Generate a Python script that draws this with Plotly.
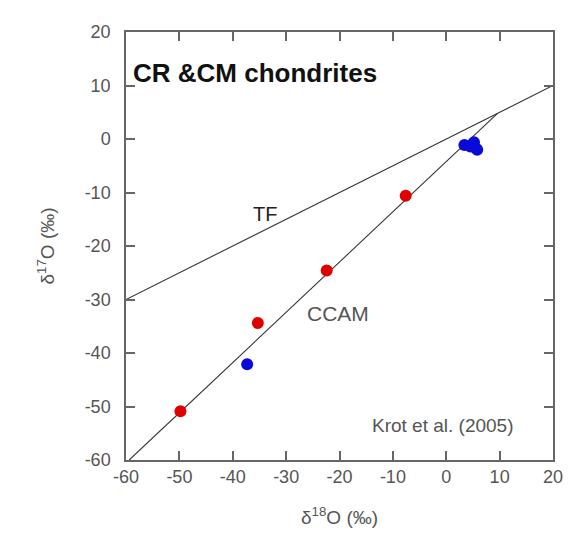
import plotly.graph_objects as go

# Data
red_x = [-49.8, -35.3, -22.4, -7.6]
red_y = [-50.9, -34.4, -24.6, -10.6]
blue_x = [-37.3, 3.4, 4.5, 5.2, 5.6, 5.8]
blue_y = [-42.1, -1.1, -1.4, -0.6, -1.8, -2.0]
tf_x = [-60, 20]
tf_y = [-30, 10]
ccam_x = [-59.4, 9.6]
ccam_y = [-60, 4.8]
x_ticks = [-60, -50, -40, -30, -20, -10, 0, 10, 20]
y_ticks = [-60, -50, -40, -30, -20, -10, 0, 10, 20]
x_ticktext = [str(v) for v in x_ticks]
y_ticktext = [str(v) for v in y_ticks]

FONT = "Liberation Sans, Arial, sans-serif"

fig = go.Figure()
fig.add_trace(go.Scatter(x=tf_x, y=tf_y, mode="lines", line=dict(color="#333", width=1.1), showlegend=False))
fig.add_trace(go.Scatter(x=ccam_x, y=ccam_y, mode="lines", line=dict(color="#333", width=1.1), showlegend=False))
fig.add_trace(go.Scatter(x=red_x, y=red_y, mode="markers", marker=dict(color="#e00000", size=12), showlegend=False))
fig.add_trace(go.Scatter(x=blue_x, y=blue_y, mode="markers", marker=dict(color="#0a0ad8", size=12), showlegend=False))

axis_common = dict(
    showgrid=False, zeroline=False, showline=True, linecolor="#666", linewidth=1.5,
    mirror="allticks", ticks="inside", ticklen=9, tickcolor="#666", tickwidth=1.5,
    tickfont=dict(family=FONT, size=18, color="#555"),
)
fig.update_xaxes(range=[-60, 20], tickvals=x_ticks, ticktext=x_ticktext, **axis_common,
                 title=dict(text="δ<sup>18</sup>O (‰)", font=dict(family=FONT, size=19, color="#555"), standoff=24))
fig.update_yaxes(range=[-60, 20], tickvals=y_ticks, ticktext=y_ticktext, **axis_common, ticklabelstandoff=10,
                 title=dict(text="δ<sup>17</sup>O (‰)", font=dict(family=FONT, size=19, color="#555"), standoff=25))

fig.add_annotation(x=0.012, y=0.905, xref="paper", yref="paper", text="<b>CR &CM chondrites</b>",
                   showarrow=False, xanchor="left", yanchor="middle", font=dict(family=FONT, size=26, color="#111"))
fig.add_annotation(x=-33.9, y=-14.0, text="TF", showarrow=False, font=dict(family=FONT, size=20, color="#222"))
fig.add_annotation(x=-20.2, y=-32.7, text="CCAM", showarrow=False, font=dict(family=FONT, size=21, color="#555"))
fig.add_annotation(x=-0.6, y=-53.6, text="Krot et al. (2005)", showarrow=False, font=dict(family=FONT, size=19, color="#555"))

fig.update_layout(
    width=576, height=540,
    margin=dict(l=126, r=23, t=32, b=80),
    paper_bgcolor="white", plot_bgcolor="white",
)
fig.write_html("out.html")
